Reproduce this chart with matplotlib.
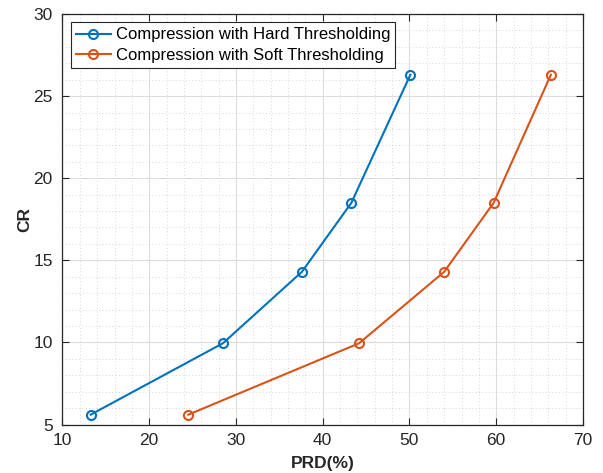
import matplotlib
matplotlib.use('Agg')
import matplotlib.pyplot as plt
from matplotlib.ticker import MultipleLocator

# data
cr = [5.6, 9.95, 14.3, 18.5, 26.3]
prd_hard = [13.25, 28.5, 37.6, 43.3, 50.1]
prd_soft = [24.5, 44.2, 54.0, 59.7, 66.3]

plt.rcParams['font.family'] = ['Liberation Sans', 'DejaVu Sans']

fig = plt.figure(figsize=(6.03, 4.73), dpi=100)
ax = fig.add_axes([0.1036, 0.1025, 0.8632, 0.8679])

ax.plot(prd_hard, cr, '-o', color='#0072BD', lw=1.5, ms=6.5, mfc='none', mew=1.5,
        label='Compression with Hard Thresholding')
ax.plot(prd_soft, cr, '-o', color='#D95319', lw=1.5, ms=6.5, mfc='none', mew=1.5,
        label='Compression with Soft Thresholding')

ax.set_xlim(10, 70)
ax.set_ylim(5, 30)
ax.xaxis.set_major_locator(MultipleLocator(10))
ax.yaxis.set_major_locator(MultipleLocator(5))
ax.xaxis.set_minor_locator(MultipleLocator(2))
ax.yaxis.set_minor_locator(MultipleLocator(1))

ax.grid(which='major', color='#dcdcdc', lw=0.8, ls='-')
ax.grid(which='minor', color='#c8c8c8', lw=0.6, ls=(0, (1, 3)))
ax.set_axisbelow(True)

ax.tick_params(which='major', direction='in', length=5, top=True, right=True,
               labelsize=12.5, colors='#262626', width=0.8)
ax.tick_params(axis='x', pad=6)
ax.tick_params(axis='y', pad=7)
ax.tick_params(which='minor', length=0)
for s in ax.spines.values():
    s.set_color('#262626')
    s.set_linewidth(0.9)

ax.set_xlabel('PRD(%)', fontsize=12.5, fontweight='bold', color='#262626', labelpad=6)
ax.set_ylabel('CR', fontsize=12.5, fontweight='bold', color='#262626', labelpad=1)

leg = ax.legend(loc='upper left', fontsize=12, fancybox=False, framealpha=1,
                edgecolor='#262626', borderpad=0.3, labelspacing=0.35,
                handlelength=2.1, handletextpad=0.3, borderaxespad=0.5)
leg.get_frame().set_linewidth(0.8)

fig.savefig('out.png', dpi=100)
